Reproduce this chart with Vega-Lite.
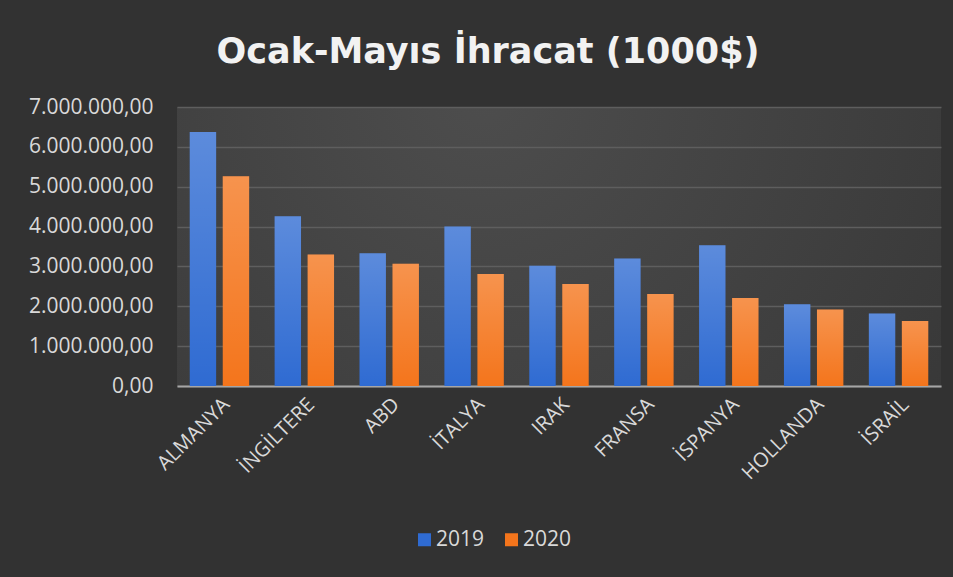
{
  "$schema": "https://vega.github.io/schema/vega-lite/v6.json",
  "autosize": "none",
  "width": 764,
  "height": 279,
  "padding": {"left": 177, "top": 107, "right": 12, "bottom": 191},
  "background": "#323232",
  "title": {
    "text": "Ocak-Mayıs İhracat (1000$)",
    "font": "DejaVu Sans",
    "fontSize": 35,
    "fontWeight": "bold",
    "color": "#f2f2f2",
    "anchor": "middle",
    "dx": -71,
    "offset": 26
  },
  "config": {
    "locale": {"number": {"decimal": ",", "thousands": ".", "grouping": [3], "currency": ["", "$"]}},
    "view": {
      "stroke": null,
      "fill": {"gradient": "radial", "x1": 0.4, "y1": 0.3, "r1": 0, "x2": 0.4, "y2": 0.3, "r2": 0.8,
        "stops": [{"offset": 0, "color": "#4d4d4d"}, {"offset": 1, "color": "#363636"}]}
    },
    "font": "Open Sans"
  },
  "data": {
    "values": [
      {"country": "ALMANYA", "year": "2019", "value": 6370000},
      {"country": "ALMANYA", "year": "2020", "value": 5260000},
      {"country": "İNGİLTERE", "year": "2019", "value": 4260000},
      {"country": "İNGİLTERE", "year": "2020", "value": 3300000},
      {"country": "ABD", "year": "2019", "value": 3330000},
      {"country": "ABD", "year": "2020", "value": 3070000},
      {"country": "İTALYA", "year": "2019", "value": 4000000},
      {"country": "İTALYA", "year": "2020", "value": 2810000},
      {"country": "IRAK", "year": "2019", "value": 3020000},
      {"country": "IRAK", "year": "2020", "value": 2560000},
      {"country": "FRANSA", "year": "2019", "value": 3200000},
      {"country": "FRANSA", "year": "2020", "value": 2310000},
      {"country": "İSPANYA", "year": "2019", "value": 3530000},
      {"country": "İSPANYA", "year": "2020", "value": 2210000},
      {"country": "HOLLANDA", "year": "2019", "value": 2050000},
      {"country": "HOLLANDA", "year": "2020", "value": 1920000},
      {"country": "İSRAİL", "year": "2019", "value": 1820000},
      {"country": "İSRAİL", "year": "2020", "value": 1630000}
    ]
  },
  "encoding": {
    "x": {
      "field": "country", "type": "nominal", "sort": null,
      "scale": {"paddingInner": 0.3, "paddingOuter": 0.15},
      "axis": {
        "title": null, "labelAngle": -45, "labelFontSize": 20, "labelColor": "#d9d9d9",
        "ticks": false, "domainColor": "#a6a6a6", "domainWidth": 2, "labelPadding": 8
      }
    },
    "xOffset": {"field": "year", "type": "nominal", "scale": {"paddingInner": 0.2}},
    "y": {
      "field": "value", "type": "quantitative",
      "scale": {"domain": [0, 7000000], "nice": false},
      "axis": {
        "title": null, "values": [0, 1000000, 2000000, 3000000, 4000000, 5000000, 6000000, 7000000],
        "format": ",.2f", "labelFontSize": 21, "labelColor": "#d9d9d9", "ticks": false, "domain": false,
        "labelPadding": 24, "gridColor": "#5e5e5e", "gridWidth": 1.5
      }
    }
  },
  "layer": [
    {
      "mark": {"type": "bar"},
      "encoding": {
        "color": {
          "field": "year", "type": "nominal",
          "scale": {"domain": ["2019", "2020"], "range": ["#2f6bd2", "#f4751c"]},
          "legend": {
            "title": null, "orient": "none", "direction": "horizontal",
            "legendX": 237, "legendY": 422,
            "symbolType": "square", "symbolSize": 169, "symbolStrokeWidth": 0,
            "labelFontSize": 21, "labelColor": "#d9d9d9", "labelOffset": 1, "columnPadding": 16
          }
        }
      }
    },
    {
      "mark": {
        "type": "bar",
        "fill": {"gradient": "linear", "x1": 0, "y1": 0, "x2": 0, "y2": 1,
          "stops": [{"offset": 0, "color": "rgba(255,255,255,0.22)"}, {"offset": 1, "color": "rgba(255,255,255,0)"}]}
      }
    }
  ]
}
